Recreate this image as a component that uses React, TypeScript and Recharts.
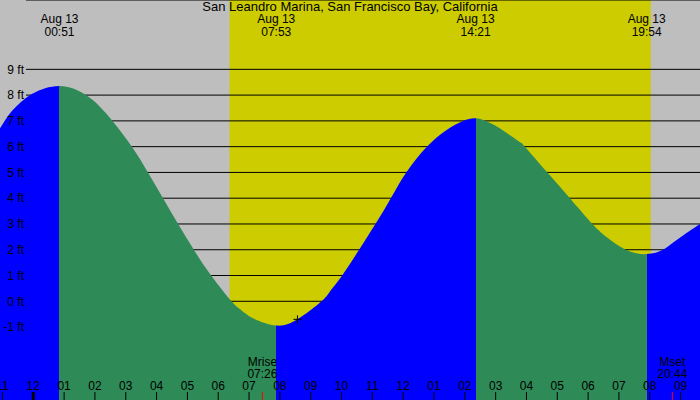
import React from 'react';
import {
  AreaChart,
  Area,
  XAxis,
  YAxis,
  CartesianGrid,
  ReferenceArea,
  ReferenceDot,
} from 'recharts';

// tide height (ft), hours from midnight Aug 13
const tideHours = [
  -1.08, -0.76, -0.44, 0, 0.85, 1.67, 2.16, 2.57, 3.2, 3.72, 4.21, 4.7, 5.21,
  5.77, 6.43, 6.7, 7.13, 7.883, 8.57, 9.35, 9.62, 10.02, 10.57, 11.1, 11.6,
  12.1, 12.77, 13.4, 13.94, 14.35, 14.68, 14.91, 15.24, 15.78, 15.95, 16.68,
  17.41, 18.14, 18.59, 19.22, 19.9, 20.43, 20.75, 21.08, 21.41, 21.63,
];
const tideFeet = [
  6.71, 7.29, 7.68, 8.07, 8.35, 8.03, 7.55, 7.0, 6.0, 5.0, 4.0, 3.0, 2.0, 1.0,
  0.0, -0.3, -0.66, -0.94, -0.7, 0.0, 0.37, 1.0, 2.0, 3.0, 4.0, 5.0, 6.0, 6.64,
  7.0, 7.1, 7.0, 6.87, 6.63, 6.18, 6.0, 5.0, 4.0, 3.0, 2.5, 2.0, 1.83, 2.0,
  2.27, 2.55, 2.82, 3.0,
];

const extremeHours = [0.85, 7.883, 14.35, 19.9];
const extremeDates = ['Aug 13', 'Aug 13', 'Aug 13', 'Aug 13'];
const extremeTimes = ['00:51', '07:53', '14:21', '19:54'];

const moonHours = [7.433, 20.733];
const moonNames = ['Mrise', 'Mset'];
const moonTimes = ['07:26', '20:44'];

const hourTicks = [
  -1, 0, 1, 2, 3, 4, 5, 6, 7, 8, 9, 10, 11, 12, 13, 14, 15, 16, 17, 18, 19,
  20, 21,
];
const feetTicks = [-1, 0, 1, 2, 3, 4, 5, 6, 7, 8, 9];

const sunriseHour = 6.367;
const sunsetHour = 20.033;

const nowHour = 8.57;
const nowFeet = -0.7;

const xDomain = [-1.08, 21.63];
const yDomain = [-3.83, 11.69];

const title = 'San Leandro Marina, San Francisco Bay, California';

const RISING = '#0000ff';
const FALLING = '#2e8b57';

const data = tideHours.map((hour, i) => ({ hour, feet: tideFeet[i] }));

// hard colour stops at each high/low so rising and falling water differ
function tideStops() {
  const t0 = tideHours[0];
  const span = tideHours[tideHours.length - 1] - t0;
  let rising = tideFeet[1] > tideFeet[0];
  const stops: { offset: number; color: string }[] = [];
  let start = 0;
  extremeHours.forEach((t) => {
    const off = (t - t0) / span;
    const color = rising ? RISING : FALLING;
    stops.push({ offset: start, color }, { offset: off, color });
    start = off;
    rising = !rising;
  });
  const color = rising ? RISING : FALLING;
  stops.push({ offset: start, color }, { offset: 1, color });
  return stops;
}

function HourTick(props: any) {
  const { x, y, payload } = props;
  const v = payload.value;
  const m = moonHours.indexOf(v);
  if (m >= 0) {
    return (
      <g>
        <line x1={x} x2={x} y1={y + 2} y2={y + 10} stroke="#ff0000" />
        <text x={x} y={y - 24} textAnchor="middle" fontSize={12} fill="#000">
          {moonNames[m]}
        </text>
        <text x={x} y={y - 12} textAnchor="middle" fontSize={12} fill="#000">
          {moonTimes[m]}
        </text>
      </g>
    );
  }
  const h24 = ((v % 24) + 24) % 24;
  const label = String(h24 % 12 || 12).padStart(2, '0');
  return (
    <g>
      <line
        x1={x}
        x2={x}
        y1={y + 2}
        y2={y + 10}
        stroke="#000"
        strokeWidth={h24 === 0 ? 3 : 1}
      />
      <text x={x} y={y} textAnchor="middle" fontSize={12} fill="#000">
        {label}
      </text>
    </g>
  );
}

function ExtremeTick(props: any) {
  const { x, y, payload } = props;
  const i = extremeHours.indexOf(payload.value);
  return (
    <g>
      <text x={x} y={y + 23} textAnchor="middle" fontSize={12} fill="#000">
        {extremeDates[i]}
      </text>
      <text x={x} y={y + 36} textAnchor="middle" fontSize={12} fill="#000">
        {extremeTimes[i]}
      </text>
    </g>
  );
}

function NowMarker(props: any) {
  const { cx, cy } = props;
  return (
    <g stroke="#000" strokeWidth={1}>
      <line x1={cx - 4} x2={cx + 4} y1={cy} y2={cy} />
      <line x1={cx} x2={cx} y1={cy - 4} y2={cy + 4} />
    </g>
  );
}

export default function App() {
  const stops = tideStops();
  return (
    <div
      style={{
        position: 'relative',
        width: 700,
        height: 400,
        background: '#bebebe',
        fontFamily: '"Liberation Sans", Arial, sans-serif',
        overflow: 'hidden',
      }}
    >
      <style>{'body{margin:0}'}</style>
      <AreaChart
        width={700}
        height={400}
        data={data}
        margin={{ top: 0, right: 0, bottom: 0, left: 0 }}
      >
        <defs>
          <linearGradient id="tideFill" x1="0" y1="0" x2="1" y2="0">
            {stops.map((s, i) => (
              <stop key={i} offset={s.offset} stopColor={s.color} />
            ))}
          </linearGradient>
        </defs>
        <ReferenceArea
          x1={sunriseHour}
          x2={sunsetHour}
          fill="#cccc00"
          fillOpacity={1}
          stroke="none"
          zIndex={-200}
        />
        <CartesianGrid
          x={26}
          width={674}
          vertical={false}
          stroke="#000"
          strokeOpacity={1}
          zIndex={-100}
        />
        <Area
          dataKey="feet"
          type="natural"
          stroke="none"
          fill="url(#tideFill)"
          fillOpacity={1}
          baseValue="dataMin"
          dot={false}
          activeDot={false}
          isAnimationActive={false}
        />
        <XAxis
          dataKey="hour"
          type="number"
          domain={xDomain}
          allowDataOverflow
          orientation="bottom"
          mirror
          ticks={[...hourTicks, ...moonHours]}
          interval={0}
          axisLine={false}
          tickLine={false}
          tickSize={8}
          tickMargin={2}
          tick={(p: any) => <HourTick {...p} />}
        />
        <XAxis
          xAxisId="ext"
          dataKey="hour"
          type="number"
          domain={xDomain}
          allowDataOverflow
          orientation="top"
          mirror
          ticks={extremeHours}
          interval={0}
          axisLine={false}
          tickLine={false}
          tickSize={0}
          tickMargin={0}
          tick={(p: any) => <ExtremeTick {...p} />}
        />
        <YAxis
          type="number"
          domain={yDomain}
          allowDataOverflow
          mirror
          ticks={feetTicks}
          interval={0}
          axisLine={false}
          tickLine={false}
          tickSize={0}
          tickMargin={24}
          tick={{ fill: '#000', fontSize: 12, textAnchor: 'end' }}
          tickFormatter={(v: number) => `${v} ft`}
        />
        <ReferenceDot
          x={nowHour}
          y={nowFeet}
          r={4}
          shape={(p: any) => <NowMarker {...p} />}
        />
      </AreaChart>
      <div
        style={{
          position: 'absolute',
          top: 0,
          left: 0,
          width: 700,
          textAlign: 'center',
          fontSize: 13,
          lineHeight: '13px',
          color: '#000',
        }}
      >
        {title}
      </div>
    </div>
  );
}
